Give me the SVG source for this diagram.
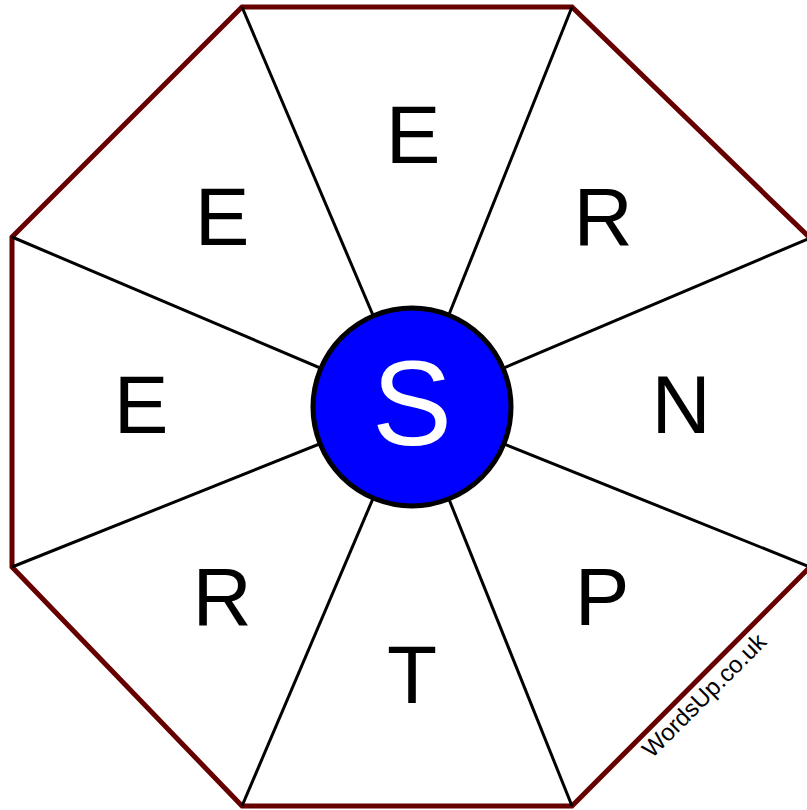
<svg xmlns="http://www.w3.org/2000/svg" width="807" height="810" viewBox="0 0 807 810">
<style>
.spoke{stroke:#000;stroke-width:3;fill:none}
.oct{fill:#fff;stroke:#660000;stroke-width:5;stroke-linejoin:miter}
.lt{font-family:"Liberation Sans",Arial,sans-serif;font-size:82px;fill:#000;text-anchor:middle}
.ct{font-family:"Liberation Sans",Arial,sans-serif;font-size:120px;fill:#fff;text-anchor:middle}
.wm{font-family:"Liberation Sans",Arial,sans-serif;font-size:24px;fill:#000}
</style>
<rect width="807" height="810" fill="#fff"/>
<g id="octagon">
<polygon class="oct" points="242,7 572,7 810,238 810,567 572,806 242,806 12,567 12,237"/>
</g>
<g id="connectors">
<line class="spoke" x1="412" y1="407" x2="242" y2="7"/>
<line class="spoke" x1="412" y1="407" x2="572" y2="7"/>
<line class="spoke" x1="412" y1="407" x2="810" y2="238"/>
<line class="spoke" x1="412" y1="407" x2="810" y2="567"/>
<line class="spoke" x1="412" y1="407" x2="572" y2="806"/>
<line class="spoke" x1="412" y1="407" x2="242" y2="806"/>
<line class="spoke" x1="412" y1="407" x2="12" y2="567"/>
<line class="spoke" x1="412" y1="407" x2="12" y2="237"/>
</g>
<g id="seg-top"><text class="lt" x="413" y="163">E</text></g>
<g id="seg-topright"><text class="lt" x="603" y="245">R</text></g>
<g id="seg-right"><text class="lt" x="681" y="433">N</text></g>
<g id="seg-bottomright"><text class="lt" x="602" y="625">P</text></g>
<g id="seg-bottom"><text class="lt" x="412" y="703">T</text></g>
<g id="seg-bottomleft"><text class="lt" x="222" y="625">R</text></g>
<g id="seg-left"><text class="lt" x="141" y="433">E</text></g>
<g id="seg-topleft"><text class="lt" x="222" y="245">E</text></g>
<g id="center">
<circle cx="412" cy="407" r="99" fill="#0000ff" stroke="#000" stroke-width="5"/>
<text class="ct" x="412" y="445">S</text>
</g>
<g id="watermark">
<text class="wm" transform="translate(652,759) rotate(-45)">WordsUp.co.uk</text>
</g>
</svg>
